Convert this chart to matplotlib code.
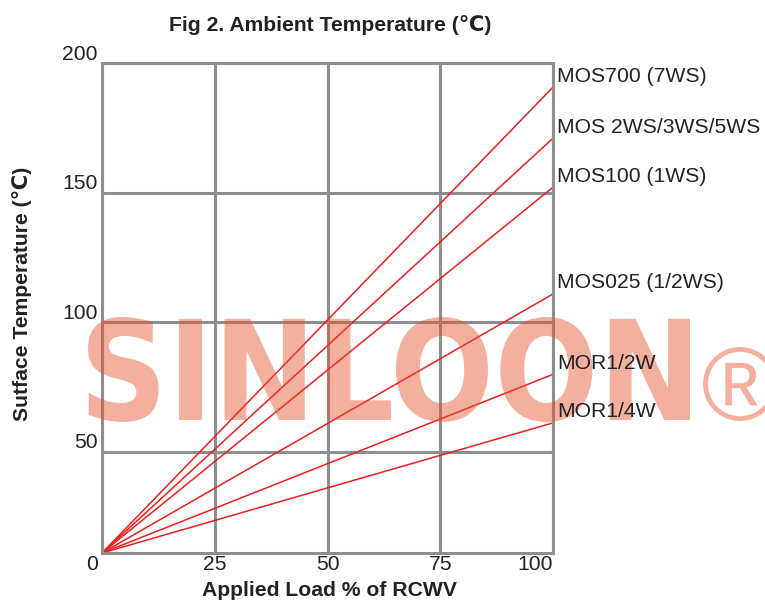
import matplotlib
matplotlib.use("Agg")
import matplotlib.pyplot as plt
from matplotlib.textpath import TextPath
from matplotlib.patches import PathPatch
from matplotlib.font_manager import FontProperties
from matplotlib.transforms import Affine2D, ScaledTranslation

plt.rcParams['font.family'] = ['Liberation Sans', 'DejaVu Sans']

# ---- data ----
load_pct = [0, 100]
series_names = ["MOS700 (7WS)", "MOS 2WS/3WS/5WS", "MOS100 (1WS)",
                "MOS025 (1/2WS)", "MOR1/2W", "MOR1/4W"]
start_temp = 11
end_temps = [190.7, 171.0, 152.1, 110.9, 79.9, 61.2]
x_ticks = [0, 25, 50, 75, 100]
y_ticks = [50, 100, 150, 200]
title = "Fig 2. Ambient Temperature (\u2103)"
xlabel = "Applied Load % of RCWV"
ylabel = "Sutface Temperature (\u2103)"
watermark = "SINLOON"

W, H = 765, 601
fig = plt.figure(figsize=(W / 100, H / 100), dpi=100)

def fx(px):
    return px / W

def fy(py):
    return 1 - py / H

ax = fig.add_axes([fx(102), fy(553), fx(553) - fx(102), fy(63) - fy(553)])
ax.set_xlim(0, 100)
ax.set_ylim(11, 200)

grid_c = '#8e8e8e'
fs = 15.2
ax.set_xticks(x_ticks)
ax.set_yticks(y_ticks)
ax.grid(True, color=grid_c, lw=2.2)
ax.set_axisbelow(True)
for s in ax.spines.values():
    s.set_color(grid_c)
    s.set_linewidth(2.2)
ax.tick_params(length=0, labelsize=fs, colors='#222222')
ax.tick_params(axis='x', pad=1.5)
ax.tick_params(axis='y', pad=3)

ylabels = ax.set_yticklabels([str(v) for v in y_ticks])
for lab in ylabels:
    lab.set_transform(lab.get_transform() + ScaledTranslation(0, 11 / 100, fig.dpi_scale_trans))
xlabels = ax.set_xticklabels([str(v) for v in x_ticks])
xlabels[0].set_ha('right')
xlabels[0].set_transform(xlabels[0].get_transform() + ScaledTranslation(-4 / 100, 0, fig.dpi_scale_trans))
xlabels[-1].set_ha('right')

for name, end in zip(series_names, end_temps):
    ax.plot(load_pct, [start_temp, end], color='#f01e1e', lw=1.1, zorder=2, clip_on=False)
    ax.annotate(name, xy=(load_pct[-1], end), xytext=(3, 8), textcoords='offset points',
                ha='left', va='center', fontsize=fs, color='#222222',
                annotation_clip=False, zorder=4)

# watermark drawn over the plot with transparency
wm_color = (232 / 255, 80 / 255, 40 / 255)
def fit_path(text, prop, x0, y0, x1, y1):
    tp = TextPath((0, 0), text, size=100, prop=prop)
    ext = tp.get_extents()
    sx = (fx(x1) - fx(x0)) / ext.width
    sy = (fy(y0) - fy(y1)) / ext.height
    tr = Affine2D().translate(-ext.x0, -ext.y0).scale(sx, sy).translate(fx(x0), fy(y1))
    return tp, tr

tp, tr = fit_path(watermark, FontProperties(family='DejaVu Sans', weight='bold'), 88, 317, 690, 422)
ax.add_patch(PathPatch(tp, transform=tr + fig.transFigure, facecolor=wm_color, edgecolor='none',
                       alpha=0.45, zorder=3, clip_on=False))
tp2, tr2 = fit_path("\u00ae", FontProperties(family='Liberation Sans'), 703, 347, 777, 421)
ax.add_patch(PathPatch(tp2, transform=tr2 + fig.transFigure, facecolor=wm_color, edgecolor='none',
                       alpha=0.45, zorder=3, clip_on=False))

fig.text(fx(330), fy(25), title, ha='center', va='center', fontsize=fs, fontweight='bold', color='#222222')
fig.text(fx(329), fy(590), xlabel, ha='center', va='center', fontsize=fs, fontweight='bold', color='#222222')
fig.text(fx(22), fy(294), ylabel, ha='center', va='center', rotation=90, fontsize=fs, fontweight='bold', color='#222222')

fig.savefig("out.png", dpi=100)
